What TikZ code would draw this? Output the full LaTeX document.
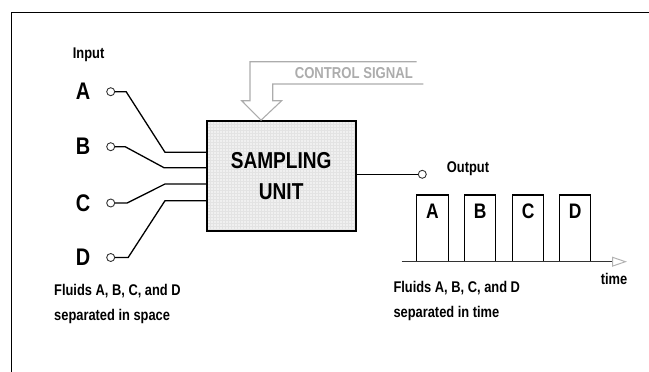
\documentclass[tikz,border=0pt]{standalone}
\usepackage{fontspec}
\setmainfont{Liberation Sans}[UprightFont={* Bold},FakeStretch=0.83]
\usetikzlibrary{arrows.meta,calc}

\begin{document}
\begin{tikzpicture}[x=1pt,y=-1pt,
  port/.style={circle,draw=gray!40!black,line width=0.9pt,inner sep=0pt,minimum size=8pt,fill=white},
  chan/.style={font=\fontsize{24}{24}\selectfont,inner sep=0pt},
  lbl/.style={font=\fontsize{15.5}{25}\selectfont,align=left,inner sep=0pt},
  wire/.style={line width=1.3pt},
  pulse/.style={line width=1.1pt},
  ctrl/.style={draw=gray!65,line width=1.1pt}]
  \useasboundingbox (0,0) rectangle (649,372);

  %frame
  \draw[line width=1.2pt] (11.7,372) -- (11.7,12.3) -- (649,12.3);

  %inputs
  \node[lbl,anchor=west] (input) at (72.7,55) {Input};
  \foreach \c/\y in {A/91.7,B/146.7,C/203,D/257.5}
  {
    \node[chan] (lab\c) at (83,\y) {\c};
    \node[port] (in\c) at (110.7,\y) {};
  }

  %sampling unit
  \node[draw,line width=1.6pt,fill=gray!12,minimum width=149pt,minimum height=110pt,
        font=\fontsize{23}{31}\selectfont,align=center,
        path picture={\draw[gray!22,line width=0.3pt,step=3pt]
          (path picture bounding box.south west) grid (path picture bounding box.north east);}]
        (sampler) at (281.2,176) {SAMPLING\\UNIT};

  %wires into the unit
  \coordinate (wA) at (165,152.3);
  \coordinate (wB) at (164,167.7);
  \coordinate (wC) at (165,184);
  \coordinate (wD) at (165,200.7);
  \draw[wire] (inA.east) -- ++(11,0) -- (wA) -- (wA -| sampler.west);
  \draw[wire] (inB.east) -- ++(10,0) -- (wB) -- (wB -| sampler.west);
  \draw[wire] (inC.east) -- ++(12,0) -- (wC) -- (wC -| sampler.west);
  \draw[wire] (inD.east) -- ++(13,0) -- (wD) -- (wD -| sampler.west);

  %control signal
  \draw[ctrl] (416.7,61.7) -- (250,61.7) -- (250,100.7) -- (241.7,100.7)
    -- (sampler.north -| 261,0) -- (281.7,100.7) -- (272.7,100.7) -- (272.7,84) -- (423.3,84);
  \node[font=\fontsize{15.8}{15.8}\selectfont,text=gray!65,inner sep=0pt] (ctrltext) at (353.8,73.3) {CONTROL SIGNAL};

  %output
  \node[port] (out) at (422.3,174.3) {};
  \draw[wire] (sampler.east |- out) -- (out.west);
  \node[lbl,anchor=west] (outtext) at (446.7,168.3) {Output};

  %pulses on the time axis
  \coordinate (t0) at (401.7,261.7);
  \coordinate (t1) at (627,261.7);
  \foreach \c/\x in {A/416.7,B/464.3,C/512.3,D/559.3}
  {
    \draw[pulse] (\x,261.7) -- (\x,195) -- ++(31.5,0) -- ++(0,66.7);
    \node[font=\fontsize{21}{21}\selectfont,inner sep=0pt] (pulse\c) at ($(\x,211.7)+(15.75,0)$) {\c};
  }
  \draw[line width=1.3pt,gray!40!black,-{Triangle[open,length=15pt,width=10pt,color=gray!60,line width=1pt]}] (t0) -- (t1);
  \node[lbl] (timetext) at (614,279) {time};

  %captions
  \node[lbl,anchor=west] (spacetext) at (54,304) {Fluids A, B, C, and D\\separated in space};
  \node[lbl,anchor=west] (timecap) at (393.3,300.8) {Fluids A, B, C, and D\\separated in time};

\end{tikzpicture}
\end{document}
